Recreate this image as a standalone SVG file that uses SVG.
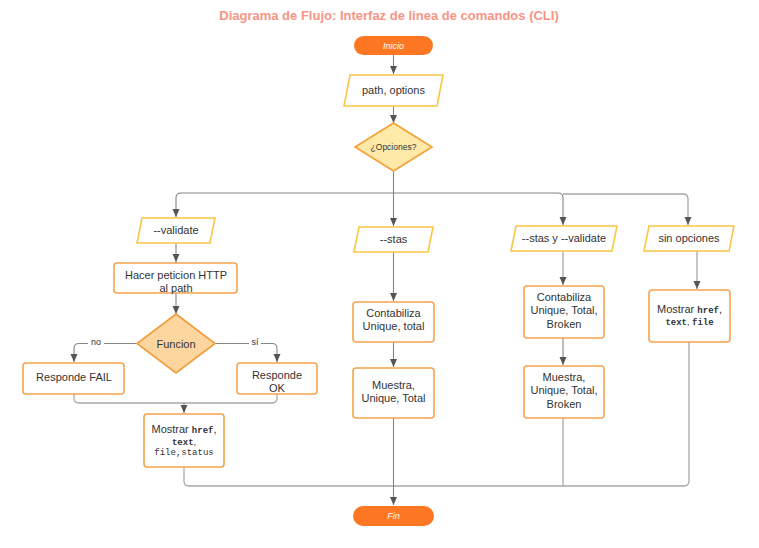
<svg xmlns="http://www.w3.org/2000/svg" width="759" height="548" viewBox="0 0 759 548">
<defs>
<marker id="ah" markerUnits="userSpaceOnUse" markerWidth="10" markerHeight="10" refX="8" refY="3.5" orient="auto">
<path d="M0,0 L8,3.5 L0,7 z" fill="#555"/>
</marker>
<style>
.t{font-family:"Liberation Sans",Arial,sans-serif;fill:#333;text-anchor:middle;font-size:11px}
.s8{font-size:8.5px}
.s9{font-size:9px}
.m{font-family:"Liberation Mono","DejaVu Sans Mono",monospace;font-size:9px;font-weight:bold}
.mn{font-family:"Liberation Mono","DejaVu Sans Mono",monospace;font-size:9px}
.io{fill:#fff;stroke:#fbc545;stroke-width:1.6}
.pr{fill:#fff;stroke:#f5a34b;stroke-width:1.6}
.term{fill:#fd7621}
.tt{font-family:"Liberation Sans",Arial,sans-serif;fill:#fff;font-size:9px;font-style:italic;text-anchor:middle}
.c{fill:none;stroke:#858585;stroke-width:1.1}
.c2{fill:none;stroke:#a8a8a8;stroke-width:1.3}
.a{marker-end:url(#ah)}
.lbl{font-family:"Liberation Sans",Arial,sans-serif;fill:#333;font-size:9px;text-anchor:middle}
</style>
</defs>
<rect width="759" height="548" fill="#fff"/>
<text x="389" y="20" font-family="Liberation Sans,Arial,sans-serif" font-size="13" font-weight="bold" fill="#f99484" text-anchor="middle">Diagrama de Flujo: Interfaz de linea de comandos (CLI)</text>

<g id="connectors">
<path class="c a" d="M393.5,55 V74"/>
<path class="c a" d="M393.5,106 V123"/>
<path class="c a" d="M393.5,171 V226"/>
<path class="c a" d="M393.5,193 H181 Q176,193 176,198 V217"/>
<path class="c a" d="M393.5,193 H558 Q563,193 563,198 V225"/>
<path class="c2 a" d="M563,194 H683 Q688,194 688,199 V225"/>
<path class="c a" d="M176,243 V262"/>
<path class="c a" d="M176,293 V314"/>
<path class="c a" d="M137,343.5 H79 Q74,343.5 74,348.5 V362"/>
<path class="c a" d="M215,343.5 H272 Q277,343.5 277,348.5 V362"/>
<path class="c2" d="M74,394 V398 Q74,403 79,403 H272 Q277,403 277,398 V394"/>
<path class="c a" d="M184,403 V413"/>
<path class="c2" d="M184,467 V481 Q184,486 189,486 H684 Q689,486 689,481 V342"/>
<path class="c a" d="M393.5,252 V301"/>
<path class="c a" d="M393.5,342 V367"/>
<path class="c a" d="M393.5,418 V505"/>
<path class="c2 a" d="M563,251 V285"/>
<path class="c a" d="M563,338 V365"/>
<path class="c2" d="M563,418 V486"/>
<path class="c2 a" d="M697,251 V289"/>
<rect x="88" y="337" width="16" height="10" fill="#fff"/>
<text class="lbl" x="96" y="345">no</text>
<rect x="249" y="337" width="12" height="10" fill="#fff"/>
<text class="lbl" x="255" y="345">sí</text>
</g>

<g id="inicio">
<rect class="term" x="354" y="36" width="79" height="19" rx="9.5"/>
<text class="tt" x="393.5" y="48.5">Inicio</text>
</g>
<g id="path-options">
<polygon class="io" points="350,75 443,75 437,106 344,106"/>
<text class="t" x="393.5" y="94">path, options</text>
</g>
<g id="opciones">
<polygon points="393.5,123 432,147 393.5,171 355,147" fill="#ffe9a8" stroke="#f4a033" stroke-width="1.6"/>
<text class="t s8" x="393.5" y="150">¿Opciones?</text>
</g>

<g id="validate">
<polygon class="io" points="142,218 215,218 210,243 137,243"/>
<text class="t" x="176" y="234">--validate</text>
</g>
<g id="peticion">
<rect class="pr" x="114" y="263" width="123" height="30" rx="3"/>
<text class="t" x="176" y="279">Hacer peticion HTTP</text>
<text class="t" x="176" y="292">al path</text>
</g>
<g id="funcion">
<polygon points="176,314 215,343.5 176,373 137,343.5" fill="#fdd59e" stroke="#f29b39" stroke-width="1.6"/>
<text class="t" x="176" y="347.5">Funcion</text>
</g>
<g id="fail">
<rect class="pr" x="23" y="363" width="101" height="31" rx="3"/>
<text class="t" x="74" y="381">Responde FAIL</text>
</g>
<g id="ok">
<rect class="pr" x="237" y="363" width="80" height="31" rx="3"/>
<text class="t" x="277" y="379">Responde</text>
<text class="t" x="277" y="392">OK</text>
</g>
<g id="mostrar1">
<rect class="pr" x="144" y="414" width="80" height="53" rx="3"/>
<text class="t" x="184" y="433">Mostrar <tspan class="m">href</tspan>,</text>
<text class="t s9" x="184" y="445"><tspan class="m">text</tspan>,</text>
<text class="t s9" x="184" y="455"><tspan class="mn">file,status</tspan></text>
</g>

<g id="stas">
<polygon class="io" points="359,227 433,227 428,252 354,252"/>
<text class="t" x="393.5" y="243">--stas</text>
</g>
<g id="contabiliza1">
<rect class="pr" x="353" y="302" width="81" height="40" rx="3"/>
<text class="t" x="393.5" y="317">Contabiliza</text>
<text class="t" x="393.5" y="330">Unique, total</text>
</g>
<g id="muestra1">
<rect class="pr" x="353" y="368" width="81" height="50" rx="3"/>
<text class="t" x="393.5" y="389">Muestra,</text>
<text class="t" x="393.5" y="402">Unique, Total</text>
</g>

<g id="stas-validate">
<polygon class="io" points="516,226 617,226 612,251 511,251"/>
<text class="t" x="564" y="242">--stas y --validate</text>
</g>
<g id="contabiliza2">
<rect class="pr" x="524" y="286" width="80" height="52" rx="3"/>
<text class="t" x="564" y="301">Contabiliza</text>
<text class="t" x="564" y="314">Unique, Total,</text>
<text class="t" x="564" y="328">Broken</text>
</g>
<g id="muestra2">
<rect class="pr" x="524" y="366" width="80" height="52" rx="3"/>
<text class="t" x="564" y="381">Muestra,</text>
<text class="t" x="564" y="394">Unique, Total,</text>
<text class="t" x="564" y="408">Broken</text>
</g>

<g id="sin-opciones">
<polygon class="io" points="649,226 734,226 729,251 644,251"/>
<text class="t" x="689" y="242">sin opciones</text>
</g>
<g id="mostrar2">
<rect class="pr" x="649" y="290" width="81" height="52" rx="3"/>
<text class="t" x="689.5" y="313">Mostrar <tspan class="m">href</tspan>,</text>
<text class="t s9" x="689.5" y="325"><tspan class="m">text</tspan>, <tspan class="m">file</tspan></text>
</g>

<g id="fin">
<rect class="term" x="353" y="506" width="81" height="20" rx="10"/>
<text class="tt" x="393.5" y="519">Fin</text>
</g>
</svg>
